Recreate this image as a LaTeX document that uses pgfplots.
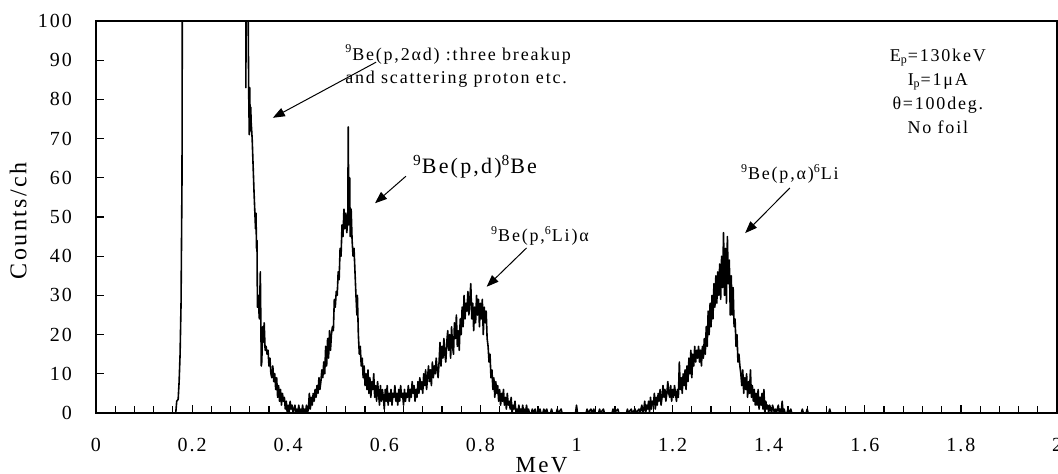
\documentclass[border=0pt]{standalone}
\usepackage{fontspec}
\setmainfont{Liberation Serif}[LetterSpace=10]
\usepackage{pgfplots}
\pgfplotsset{compat=1.18}
\usetikzlibrary{arrows.meta}
\begin{document}
\begin{tikzpicture}
\begin{axis}[
  scale only axis, width=480.5pt, height=196pt,
  xmin=0, xmax=2, ymin=0, ymax=100,
  xtick={0,0.2,0.4,0.6,0.8,1,1.2,1.4,1.6,1.8,2},
  minor x tick num=4,
  ytick={0,10,20,30,40,50,60,70,80,90,100},
  tick align=inside, xtick pos=bottom, ytick pos=left,
  major tick length=4pt, minor tick length=3.5pt,
  tick style={black, line width=0.6pt},
  axis line style={line width=0.8pt},
  /pgf/number format/assume math mode=true,
  xticklabel style={font=\fontsize{10}{12}\selectfont, yshift=-9pt},
  yticklabel style={font=\fontsize{10}{12}\selectfont, xshift=-8.5pt},
  ylabel={Counts/ch},
  ylabel style={font=\fontsize{12}{14}\selectfont, at={(axis description cs:-0.081,0.49)}, anchor=center},
  xlabel={MeV},
  xlabel style={font=\fontsize{11.5}{14}\selectfont, at={(axis description cs:0.4636,-0.1327)}, anchor=center},
  clip=true,
]
\addplot[black, line width=0.8pt, line join=round] table {
0.000 0
0.160 0
0.166 0
0.168 3
0.171 3.5
0.173 8
0.175 15
0.177 28
0.179 60
0.181 200
0.190 400
0.250 600
0.300 400
0.309 200
0.311 200
0.312 83
0.313 180
0.315 150
0.317 95
0.318 80
0.319 71
0.320 83
0.321 72
0.322 78
0.323 74
0.325 70
0.327 63
0.329 56
0.331 50
0.332 47
0.333 51
0.334 42
0.335 44
0.336 27
0.338 30
0.339 26
0.340 24
0.342 36
0.344 12
0.345 13
0.347 22
0.348 18
0.350 23
0.352 16
0.354 17
0.356 15
0.358 16
0.360 12
0.362 14
0.364 10
0.366 9
0.368 12
0.370 8
0.372 10
0.374 6
0.376 9
0.378 4
0.380 7
0.382 3
0.384 6
0.386 2
0.388 5
0.390 3
0.392 4
0.394 1
0.396 3
0.398 0
0.400 2
0.402 0
0.404 3
0.406 1
0.408 2
0.410 0
0.412 1
0.414 2
0.416 0
0.418 1
0.420 0
0.422 2
0.424 0
0.426 1
0.428 0
0.430 2
0.432 0
0.434 1
0.436 0
0.438 2
0.440 0
0.442 1
0.444 5
0.446 1
0.448 4
0.450 2
0.452 5
0.454 3
0.456 6
0.458 4
0.460 7
0.462 5
0.464 9
0.466 6
0.468 8
0.470 11
0.472 9
0.474 13
0.476 10
0.478 17
0.480 12
0.482 19
0.484 14
0.486 21
0.488 16
0.490 20
0.492 22
0.494 21
0.496 29
0.498 27
0.500 31
0.502 30
0.504 36
0.506 34
0.508 42
0.510 40
0.512 48
0.514 45
0.516 52
0.518 47
0.520 51
0.522 46
0.524 50
0.525 73
0.526 48
0.528 60
0.529 45
0.531 52
0.533 44
0.535 40
0.537 42
0.539 36
0.541 30
0.543 25
0.544 30
0.546 20
0.548 15
0.550 17
0.552 12
0.554 14
0.556 9
0.558 12
0.560 7
0.562 10
0.564 6
0.566 11
0.568 5
0.570 9
0.572 4
0.574 8
0.576 6
0.578 10
0.580 4
0.582 7
0.584 3
0.586 8
0.588 5
0.590 2
0.592 7
0.594 3
0.596 6
0.598 4
0.600 1
0.602 6
0.604 3
0.606 7
0.608 2
0.610 5
0.612 3
0.614 6
0.616 2
0.618 5
0.620 4
0.622 7
0.624 3
0.626 5
0.628 2
0.630 6
0.632 3
0.634 7
0.636 4
0.638 5
0.640 2
0.642 6
0.644 3
0.646 5
0.648 4
0.650 7
0.652 3
0.654 6
0.656 4
0.658 8
0.660 5
0.662 7
0.664 3
0.666 6
0.668 4
0.670 8
0.672 5
0.674 9
0.676 6
0.678 8
0.680 5
0.682 10
0.684 7
0.686 11
0.688 6
0.690 9
0.692 12
0.694 8
0.696 11
0.698 7
0.700 13
0.702 9
0.704 12
0.706 10
0.708 14
0.710 11
0.712 9
0.714 13
0.716 18
0.718 12
0.720 17
0.722 14
0.724 19
0.726 15
0.728 13
0.730 18
0.732 21
0.734 16
0.736 20
0.738 14
0.740 22
0.742 17
0.744 15
0.746 23
0.748 19
0.750 25
0.752 17
0.754 21
0.756 16
0.758 24
0.760 20
0.762 27
0.764 22
0.766 30
0.768 24
0.770 28
0.772 26
0.774 31
0.776 25
0.778 29
0.780 33
0.782 24
0.784 28
0.786 21
0.788 27
0.790 23
0.792 30
0.794 25
0.796 29
0.798 22
0.800 28
0.802 24
0.804 29
0.806 20
0.808 27
0.810 23
0.812 26
0.814 19
0.816 17
0.818 13
0.820 15
0.822 9
0.824 11
0.826 6
0.828 9
0.830 4
0.832 8
0.834 5
0.836 7
0.838 3
0.840 6
0.842 2
0.844 5
0.846 3
0.848 6
0.850 2
0.852 4
0.854 1
0.856 5
0.858 2
0.860 3
0.862 1
0.864 4
0.866 0
0.868 2
0.870 1
0.872 3
0.874 0
0.876 1
0.878 0
0.880 2
0.882 0
0.884 1
0.886 0
0.888 2
0.890 0
0.892 1
0.894 0
0.896 2
0.898 0
0.900 1
0.902 0
0.906 0
0.908 1
0.910 0
0.914 1
0.916 0
0.922 0
0.924 1
0.926 0
0.930 0
0.932 1
0.934 0
0.938 1
0.940 0
0.946 0
0.948 1
0.950 0
0.958 0
0.960 1
0.962 0
0.968 1
0.970 0
0.998 0
1.000 2
1.002 0
1.020 0
1.022 1
1.024 0
1.030 1
1.032 0
1.036 1
1.038 0
1.046 0
1.048 1
1.050 0
1.056 1
1.058 0
1.074 0
1.076 1
1.078 0
1.086 1
1.088 0
1.104 0
1.106 1
1.108 0
1.114 1
1.116 0
1.122 1
1.124 0
1.130 1
1.132 0
1.136 2
1.138 0
1.140 1
1.142 3
1.144 0
1.146 2
1.148 1
1.150 3
1.152 0
1.154 4
1.156 1
1.158 3
1.160 2
1.162 5
1.164 1
1.166 4
1.168 2
1.170 5
1.172 3
1.174 6
1.176 2
1.178 4
1.180 7
1.182 4
1.184 6
1.186 3
1.188 5
1.190 8
1.192 5
1.194 4
1.196 7
1.198 3
1.200 6
1.202 4
1.204 7
1.206 5
1.208 3
1.210 6
1.212 4
1.214 13
1.216 6
1.218 9
1.220 5
1.222 10
1.224 7
1.226 11
1.228 6
1.230 12
1.232 8
1.234 14
1.236 10
1.238 16
1.240 9
1.242 15
1.244 12
1.246 17
1.248 13
1.250 16
1.252 14
1.254 17
1.256 13
1.258 16
1.260 12
1.262 17
1.264 14
1.266 19
1.268 15
1.270 22
1.272 17
1.274 26
1.276 20
1.278 28
1.280 22
1.282 30
1.284 24
1.286 33
1.288 27
1.290 35
1.292 28
1.294 36
1.296 30
1.298 38
1.300 29
1.302 40
1.304 32
1.306 46
1.308 30
1.310 42
1.312 28
1.314 45
1.316 33
1.318 39
1.320 25
1.322 35
1.324 25
1.326 32
1.328 22
1.330 24
1.332 17
1.334 20
1.336 13
1.338 15
1.340 12
1.342 10
1.344 7
1.346 11
1.348 5
1.350 9
1.352 6
1.354 10
1.356 4
1.358 8
1.360 5
1.362 11
1.364 4
1.366 7
1.368 3
1.370 6
1.372 2
1.374 5
1.376 2
1.378 6
1.380 1
1.382 4
1.384 2
1.386 5
1.388 1
1.390 6
1.392 0
1.394 3
1.396 1
1.398 2
1.400 0
1.402 2
1.404 1
1.406 0
1.408 2
1.410 1
1.412 0
1.414 1
1.416 0
1.420 2
1.422 0
1.424 1
1.426 0
1.428 3
1.430 0
1.432 1
1.434 0
1.438 0
1.440 1
1.442 0
1.446 1
1.448 0
1.468 0
1.470 1
1.472 0
1.478 0
1.480 1
1.482 0
1.525 0
1.527 1
1.529 0
2.000 0
};
\coordinate (sw) at (rel axis cs:0,0);
\coordinate (ne) at (rel axis cs:1,1);
% annotations
\node[anchor=north west, inner sep=0pt, align=left, font=\fontsize{9}{11.5}\selectfont]
  at (axis cs:0.518,94) {\textsuperscript{9}Be(p,2αd) :three breakup\\and scattering proton etc.};
\draw[line width=0.5pt, -{Triangle[length=6pt,width=4.5pt]}] (axis cs:0.583,89.5) -- (axis cs:0.368,75.3);
\node[anchor=center, inner sep=0pt, font=\fontsize{11}{13}\selectfont]
  at (axis cs:0.789,62.8) {\textsuperscript{9}Be(p,d)\textsuperscript{8}Be};
\draw[line width=0.5pt, -{Triangle[length=6pt,width=4.5pt]}] (axis cs:0.645,60.4) -- (axis cs:0.5806,53.5);
\node[anchor=center, inner sep=0pt, font=\fontsize{9}{11}\selectfont]
  at (axis cs:0.924,45.2) {\textsuperscript{9}Be(p,\textsuperscript{6}Li)α};
\draw[line width=0.5pt, -{Triangle[length=6pt,width=4.5pt]}] (axis cs:0.896,42.1) -- (axis cs:0.813,32.2);
\node[anchor=center, inner sep=0pt, font=\fontsize{9}{11}\selectfont]
  at (axis cs:1.444,61) {\textsuperscript{9}Be(p,α)\textsuperscript{6}Li};
\draw[line width=0.5pt, -{Triangle[length=6pt,width=4.5pt]}] (axis cs:1.444,57.4) -- (axis cs:1.351,45.9);
\node[anchor=center, inner sep=0pt, align=center, font=\fontsize{9}{12}\selectfont]
  at (axis cs:1.752,82.1) {E\textsubscript{p}=130keV\\I\textsubscript{p}=1μA\\θ=100deg.\\No foil};
\end{axis}
\pgfresetboundingbox
\useasboundingbox ([shift={(-48pt,-30.5pt)}]sw) rectangle ([shift={(0.5pt,10.5pt)}]ne);
\end{tikzpicture}
\end{document}
